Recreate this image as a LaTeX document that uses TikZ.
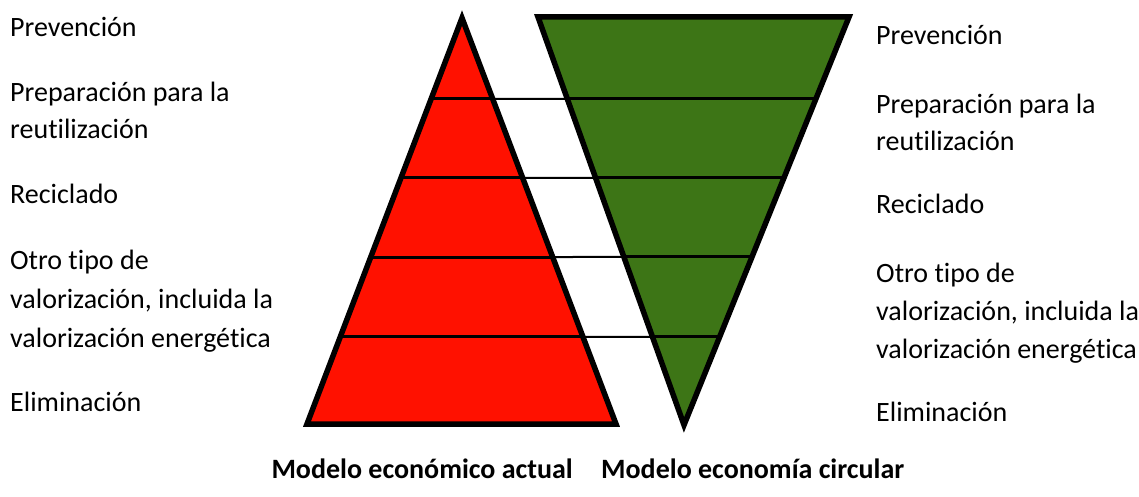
\documentclass[tikz,border=0pt]{standalone}
\usepackage{fontspec}
\setmainfont{Carlito}[Ligatures=NoCommon]
\usetikzlibrary{calc}
\definecolor{pyred}{RGB}{255,17,0}
\definecolor{pygreen}{RGB}{61,117,22}
\begin{document}
\begin{tikzpicture}[x=1pt,y=-1pt,
  tri/.style={draw=black,line width=5.5pt,line join=miter},
  level/.style={draw=black,line width=3pt},
  link/.style={draw=black,line width=2pt},
  lab/.style={anchor=base west,inner sep=0pt,font=\fontsize{28}{33}\selectfont},
  mtitle/.style={inner sep=0pt,font=\bfseries\fontsize{28}{33}\selectfont}]
\useasboundingbox (0,0) rectangle (1139,497);
% triangle corners
\coordinate (RA) at (462,18);
\coordinate (RL) at (307,424);
\coordinate (RR) at (616,424);
\coordinate (GL) at (538,17);
\coordinate (GR) at (849,17);
\coordinate (GB) at (684,425);
\fill[pyred] (RA)--(RL)--(RR)--cycle;
\fill[pygreen] (GL)--(GR)--(GB)--cycle;
% level lines
\foreach \yy/\n in {99/1,178/2,257/3,337/4}{
  \pgfmathsetmacro{\tr}{(\yy-18)/406}
  \pgfmathsetmacro{\tg}{(\yy-17)/408}
  \coordinate (rl\n) at ($(RA)!\tr!(RL)$);
  \coordinate (rr\n) at ($(RA)!\tr!(RR)$);
  \coordinate (gl\n) at ($(GL)!\tg!(GB)$);
  \coordinate (gr\n) at ($(GR)!\tg!(GB)$);
  \draw[level] (rl\n) -- (rr\n);
  \draw[link] (rr\n) -- (gl\n);
  \draw[level] (gl\n) -- (gr\n);
}
\draw[tri] (RA)--(RL)--(RR)--cycle;
\draw[tri] (GL)--(GR)--(GB)--cycle;
% left labels
\node[lab] (L1) at (10,37) {Prevención};
\node[lab] (L2a) at (10,102) {Preparación para la};
\node[lab] (L2b) at (10,139) {reutilización};
\node[lab] (L3) at (10,204) {Reciclado};
\node[lab] (L4a) at (10,269) {Otro tipo de};
\node[lab] (L4b) at (10,308) {valorización, incluida la};
\node[lab] (L4c) at (10,347) {valorización energética};
\node[lab] (L5) at (10,411) {Eliminación};
% right labels
\node[lab] (R1) at (876,45) {Prevención};
\node[lab] (R2a) at (876,114) {Preparación para la};
\node[lab] (R2b) at (876,150) {reutilización};
\node[lab] (R3) at (876,213) {Reciclado};
\node[lab] (R4a) at (876,282) {Otro tipo de};
\node[lab] (R4b) at (876,320) {valorización, incluida la};
\node[lab] (R4c) at (876,358) {valorización energética};
\node[lab] (R5) at (876,421) {Eliminación};
% titles
\node[mtitle,anchor=base east] (T1) at (573,478) {Modelo económico actual};
\node[mtitle,anchor=base west] (T2) at (601,478) {Modelo economía circular};
\end{tikzpicture}
\end{document}
